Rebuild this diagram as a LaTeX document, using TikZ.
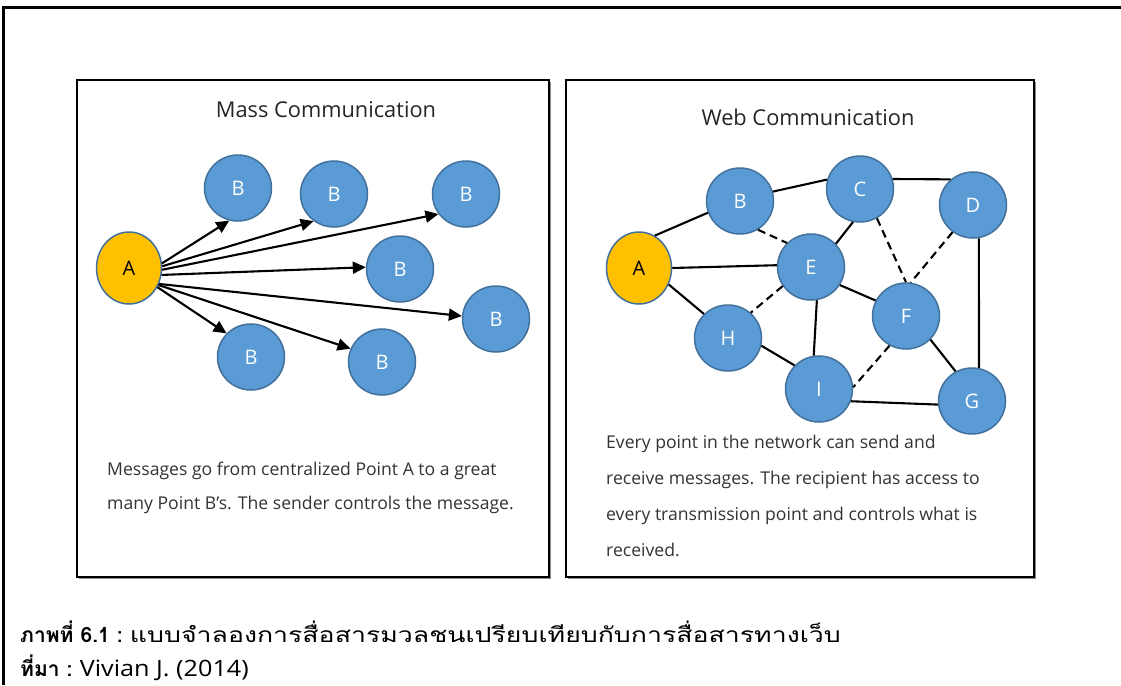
\documentclass[tikz,border=0pt]{standalone}
\usepackage{fontspec}
\setmainfont{Open Sans}
\newfontfamily\thaifont[Script=Thai]{Loma}
\newfontfamily\thaiwide[Script=Thai,FakeStretch=1.27]{Loma}
\newfontfamily\latwide[FakeStretch=1.12]{Open Sans}
\usetikzlibrary{arrows.meta,shapes.geometric}
\definecolor{nodeblue}{HTML}{5B9BD5}
\definecolor{nodeedge}{HTML}{41719C}
\definecolor{nodegold}{HTML}{FFC000}
\begin{document}
\begin{tikzpicture}[x=1pt,y=-1pt,
  bnode/.style={ellipse, minimum width=67pt, minimum height=66pt, inner sep=0pt,
    fill=nodeblue, draw=nodeedge, line width=1.5pt, text=white,
    font=\fontsize{20}{20}\selectfont},
  anode/.style={bnode, fill=nodegold, text=black, minimum width=65pt, minimum height=72pt},
  panel/.style={draw=black, line width=2pt, fill=white},
  shadowbox/.style={fill=black!45},
  link/.style={line width=2.1pt, draw=black},
  dlink/.style={link, dash pattern=on 8pt off 5pt},
  arr/.style={link, -{Triangle[length=13pt,width=12pt]}},
  title/.style={font=\fontsize{21.8}{22}\selectfont, text=black!85},
  body/.style={font=\fontsize{17.6}{36}\selectfont, text=black!80, align=left, anchor=north west, inner sep=0pt},
  caption/.style={anchor=west, inner sep=0pt, font=\fontsize{21}{21}\selectfont}
]
\useasboundingbox (0,0) rectangle (1121,685);
\fill[white] (0,0) rectangle (1121,685);
% outer frame
\draw[line width=3pt] (3,685) -- (3,8) -- (1121,8);

% panels
\fill[shadowbox] (79,82) rectangle (551,579);
\draw[panel] (77,80) rectangle (549,577);
\fill[shadowbox] (568,82) rectangle (1036,579);
\draw[panel] (566,80) rectangle (1034,577);

% ---------- Mass communication ----------
\node[title] (mtitle) at (326,110) {Mass Communication};
\node[anode] (A) at (129,268) {A};
\node[bnode] (B1) at (238,188) {B};
\node[bnode] (B2) at (334,194) {B};
\node[bnode] (B3) at (466,194) {B};
\node[bnode] (B4) at (400,269) {B};
\node[bnode] (B5) at (496,319) {B};
\node[bnode] (B6) at (251,357) {B};
\node[bnode] (B7) at (382,362) {B};
\draw[arr] (A.8) -- (B1.255);
\draw[arr] (A.3) -- (B2.233);
\draw[arr] (A.-3) -- (B3.216);
\draw[arr] (A.-12) -- (B4.177);
\draw[arr] (A.-28) -- (B5.175);
\draw[arr] (A.-34) -- (B6.136);
\draw[arr] (A.-30) -- (B7.157);
\node[body, font=\fontsize{17.6}{34}\selectfont] (mtext) at (107,462) {Messages go from centralized Point A to a great\\many Point B’s. The sender controls the message.};

% ---------- Web communication ----------
\node[title] (wtitle) at (808,117) {Web Communication};
\node[anode] (WA) at (639,268) {A};
\node[bnode] (WB) at (740,201) {B};
\node[bnode] (WC) at (860,189) {C};
\node[bnode] (WD) at (973,205) {D};
\node[bnode] (WE) at (811,267) {E};
\node[bnode] (WF) at (906,316) {F};
\node[bnode] (WH) at (728,338) {H};
\node[bnode] (WI) at (819,389) {I};
\node[bnode] (WG) at (972,401) {G};
\draw[link] (WA.64) -- (WB.200);
\draw[link] (WB.16) -- (WC.164);
\draw[link] (WC.17) -- (WD.131);
\draw[link] (WA.0) -- (WE.177);
\draw[link] (WA.-29) -- (WH.135);
\draw[link] (WC.258) -- (WE.43);
\draw[link] (WE.-32) -- (WF.153);
\draw[link] (WE.280) -- (WI.99);
\draw[link] (WH.-13) -- (WI.136);
\draw[link] (WF.-44) -- (WG.119);
\draw[link] (WD.-80) -- (WG.78);
\draw[link] (WI.-21) -- (WG.186);
\draw[dlink] (WB.-58) -- (WE.135);
\draw[dlink] (WC.-60) -- (WF.90);
\draw[dlink] (WD.233) -- (WF.82);
\draw[dlink] (WE.214) -- (WH.48);
\draw[dlink] (WF.241) -- (WI.3);
\node[body] (wtext) at (606,435) {Every point in the network can send and\\receive messages. The recipient has access to\\every transmission point and controls what is\\received.};

% ---------- caption ----------
\node[caption] (cap1) at (20,632) {{\thaifont\bfseries ภาพที่ 6.1 :} {\thaiwide แบบจำลองการสื่อสารมวลชนเปรียบเทียบกับการสื่อสารทางเว็บ}};
\node[caption] (cap2) at (20,668) {{\thaifont\bfseries ที่มา :} {\latwide\fontsize{22.5}{23}\selectfont Vivian J. (2014)}};
\end{tikzpicture}
\end{document}
